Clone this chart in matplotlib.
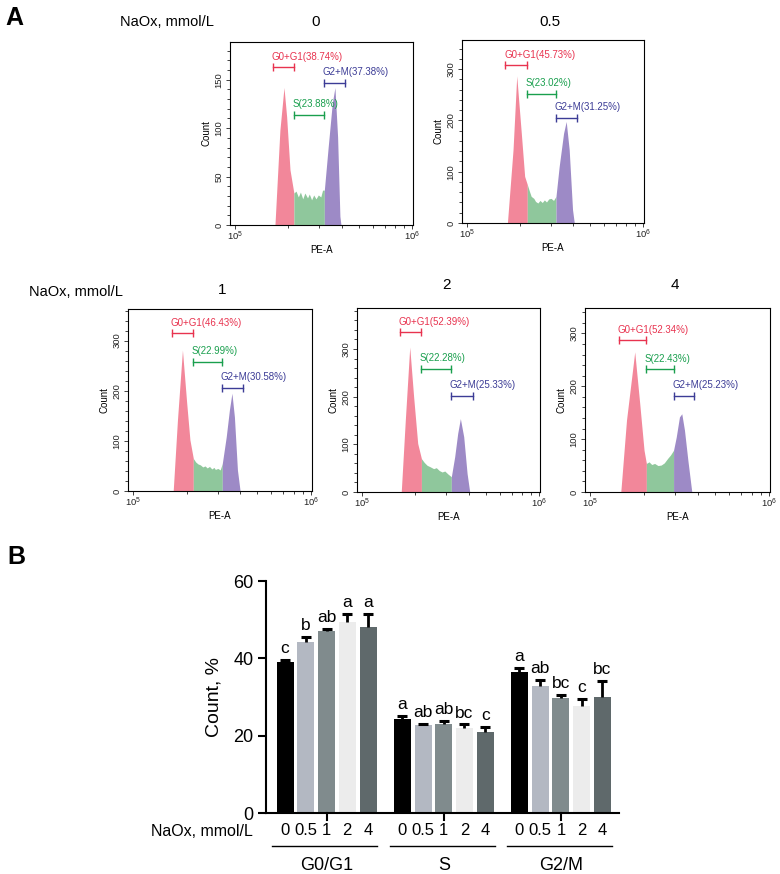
import numpy as np
import matplotlib
matplotlib.use('Agg')
import matplotlib.pyplot as plt
import matplotlib.transforms as mtrans
from matplotlib.ticker import MultipleLocator, FixedLocator, LogLocator, NullFormatter

plt.rcParams['font.family'] = ['Liberation Sans', 'DejaVu Sans']

# ---- panel A: flow cytometry histograms (x = log10 PE-A, y = count) ----
doses = ['0', '0.5', '1', '2', '4']

pe_0 = [5.226, 5.254, 5.277, 5.292, 5.311, 5.333, 5.345, 5.358, 5.37, 5.383, 5.395, 5.41, 5.42,
        5.433, 5.445, 5.458, 5.471, 5.485, 5.495, 5.505, 5.527, 5.55, 5.565, 5.58, 5.593, 5.599]
cnt_0 = [0, 98, 142, 112, 57, 33, 35, 29, 34, 27, 33, 28, 32, 26, 31, 27, 31, 29, 36, 36,
         81, 126, 142, 91, 9, 0]
pe_05 = [5.230, 5.262, 5.283, 5.309, 5.328, 5.343, 5.355, 5.365, 5.38, 5.39, 5.403, 5.415, 5.428,
         5.44, 5.452, 5.465, 5.478, 5.492, 5.506, 5.524, 5.549, 5.564, 5.581, 5.60, 5.61]
cnt_05 = [0, 143, 287, 175, 91, 75, 62, 52, 48, 42, 39, 44, 40, 45, 41, 47, 48, 44, 52,
          110, 175, 198, 143, 26, 0]
pe_1 = [5.226, 5.25, 5.278, 5.302, 5.32, 5.339, 5.352, 5.365, 5.379, 5.392, 5.405, 5.417, 5.43,
        5.443, 5.455, 5.463, 5.477, 5.49, 5.502, 5.524, 5.542, 5.556, 5.57, 5.587, 5.602]
cnt_1 = [0, 142, 281, 175, 102, 65, 58, 54, 52, 48, 50, 46, 49, 44, 47, 43, 45, 42, 55,
         108, 162, 195, 148, 42, 0]
pe_2 = [5.222, 5.245, 5.27, 5.292, 5.315, 5.336, 5.352, 5.368, 5.385, 5.405, 5.42, 5.437, 5.453,
        5.468, 5.485, 5.505, 5.524, 5.541, 5.556, 5.575, 5.594, 5.609]
cnt_2 = [0, 151, 304, 200, 102, 70, 62, 56, 53, 49, 51, 45, 42, 44, 38, 32, 74, 123, 154, 116, 39, 0]
pe_4 = [5.172, 5.204, 5.25, 5.278, 5.302, 5.315, 5.33, 5.345, 5.361, 5.38, 5.398, 5.415, 5.435,
        5.45, 5.467, 5.482, 5.5, 5.513, 5.528, 5.547, 5.569]
cnt_4 = [0, 136, 265, 167, 79, 54, 57, 52, 54, 50, 51, 55, 64, 70, 79, 104, 142, 148, 117, 60, 0]

# gate edges (log10) and gate heights (count): G0+G1, S, G2+M
gate_0 = [5.215, 5.333, 5.505, 5.621]
gate_05 = [5.219, 5.343, 5.506, 5.627]
gate_1 = [5.218, 5.339, 5.502, 5.620]
gate_2 = [5.217, 5.336, 5.505, 5.626]
gate_4 = [5.163, 5.315, 5.467, 5.583]
gate_y0 = [163, 114, 147]
gate_y05 = [308, 252, 205]
gate_y1 = [315, 258, 206]
gate_y2 = [335, 259, 202]
gate_y4 = [287, 232, 182]

g1_pct = [38.74, 45.73, 46.43, 52.39, 52.34]
s_pct = [23.88, 23.02, 22.99, 22.28, 22.43]
g2_pct = [37.38, 31.25, 30.58, 25.33, 25.23]
hist_ymax = [189, 357, 363, 386, 348]

# ---- panel B: bar chart ----
phases = ['G0/G1', 'S', 'G2/M']
g1_mean = [39.0, 44.2, 47.0, 49.5, 48.2]
g1_err = [0.6, 1.3, 0.6, 2.0, 3.2]
s_mean = [24.2, 22.8, 23.1, 21.9, 21.0]
s_err = [1.0, 0.3, 0.6, 1.0, 1.3]
g2_mean = [36.5, 32.9, 29.8, 27.6, 30.0]
g2_err = [0.9, 1.4, 0.8, 1.9, 4.1]
g1_sig = ['c', 'b', 'ab', 'a', 'a']
s_sig = ['a', 'ab', 'ab', 'bc', 'c']
g2_sig = ['a', 'ab', 'bc', 'c', 'bc']

W, H = 780, 874
fig = plt.figure(figsize=(W / 100, H / 100), dpi=100)


def px_axes(l, t, r, b):
    return fig.add_axes([l / W, 1 - b / H, (r - l) / W, (b - t) / H])


def ftext(x, y, s, **kw):
    fig.text(x / W, 1 - y / H, s, **kw)


pink, green, purple = '#f2879a', '#8fc79c', '#9d8ac6'
gate_cols = ['#e8334f', '#1a9f4e', '#3c3c96']

hists = [(pe_0, cnt_0, gate_0, gate_y0), (pe_05, cnt_05, gate_05, gate_y05),
         (pe_1, cnt_1, gate_1, gate_y1), (pe_2, cnt_2, gate_2, gate_y2),
         (pe_4, cnt_4, gate_4, gate_y4)]
boxes = [(230, 42, 413, 225), (462, 40, 644, 223), (128, 309, 312, 491),
         (357, 308, 540, 492), (585, 308, 770, 492)]

for k, (pe, cnt, gate, gy) in enumerate(hists):
    ax = px_axes(*boxes[k])
    lx = np.array(pe)
    x = 10 ** lx
    y = np.array(cnt)
    ax.fill_between(x, y, where=lx <= gate[1], color=pink, lw=0)
    ax.fill_between(x, y, where=(lx >= gate[1]) & (lx <= gate[2]), color=green, lw=0)
    ax.fill_between(x, y, where=lx >= gate[2], color=purple, lw=0)
    labels = ['G0+G1(%.2f%%)' % g1_pct[k], 'S(%.2f%%)' % s_pct[k], 'G2+M(%.2f%%)' % g2_pct[k]]
    for j in range(3):
        ax.plot([10 ** gate[j], 10 ** gate[j + 1]], [gy[j], gy[j]], color=gate_cols[j],
                lw=1, marker='|', markersize=6, markeredgewidth=1)
        ax.annotate(labels[j], (10 ** gate[j], gy[j]), xytext=(-1, 4), textcoords='offset points',
                    ha='left', va='bottom', fontsize=7, color=gate_cols[j])
    ax.set_xscale('log')
    ax.set_xlim(10 ** 4.972, 10 ** 6.006)
    ax.set_ylim(0, hist_ymax[k])
    ax.xaxis.set_major_locator(FixedLocator([1e5, 1e6]))
    ax.xaxis.set_minor_locator(LogLocator(subs=np.arange(2, 10)))
    ax.xaxis.set_minor_formatter(NullFormatter())
    if k == 0:
        ax.yaxis.set_major_locator(MultipleLocator(50))
        ax.yaxis.set_minor_locator(MultipleLocator(10))
    else:
        ax.yaxis.set_major_locator(MultipleLocator(100))
        ax.yaxis.set_minor_locator(MultipleLocator(20))
    ax.tick_params(which='both', direction='out', width=0.6, labelsize=6.8, pad=1.5, colors='#222222')
    ax.tick_params(axis='x', pad=0.5)
    ax.tick_params(which='major', length=3)
    ax.tick_params(which='minor', length=2)
    ax.tick_params(axis='y', labelrotation=90)
    for lbl in ax.get_yticklabels():
        lbl.set_va('center')
    for s in ax.spines.values():
        s.set_linewidth(0.8)
    ax.set_ylabel('Count', fontsize=7, labelpad=2)
    ax.set_xlabel('PE-A', fontsize=7, labelpad=1.5)

# titles panel A
ftext(5, 18, 'A', fontsize=18, fontweight='bold', va='center', ha='left')
ftext(167, 22, 'NaOx, mmol/L', fontsize=10.5, ha='center', va='center')
ftext(316, 22, doses[0], fontsize=11, ha='center', va='center')
ftext(550, 22, doses[1], fontsize=11, ha='center', va='center')
ftext(76, 292, 'NaOx, mmol/L', fontsize=10.5, ha='center', va='center')
ftext(222, 290, doses[2], fontsize=11, ha='center', va='center')
ftext(447, 285, doses[3], fontsize=11, ha='center', va='center')
ftext(675, 285, doses[4], fontsize=11, ha='center', va='center')

# ---- panel B ----
bar_cols = ['#000000', '#b3b8c2', '#808b8d', '#ececec', '#5f696b']
pitch_grp = 5.65
axb = px_axes(266, 581, 619, 813)
means = [g1_mean, s_mean, g2_mean]
errs = [g1_err, s_err, g2_err]
sigs = [g1_sig, s_sig, g2_sig]
bar_x = []
for g in range(3):
    xs = g * pitch_grp + np.arange(5)
    bar_x.extend(xs)
    m = np.array(means[g])
    top = m + np.array(errs[g])
    axb.bar(xs, m, width=0.82, color=bar_cols, lw=0, zorder=2)
    axb.vlines(xs, m, top, color='black', lw=2, zorder=3)
    axb.plot(xs, top, ls='none', marker='_', markersize=7, markeredgewidth=2.2, color='black', zorder=3)
    for i in range(5):
        axb.annotate(sigs[g][i], (xs[i], top[i]), xytext=(0, 5),
                     textcoords='offset points', ha='center', va='baseline', fontsize=12.5)

axb.set_xlim(-0.92, 16.1)
axb.set_ylim(0, 60)
axb.set_yticks([0, 20, 40, 60])
axb.set_xticks(bar_x)
axb.set_xticklabels(doses * 3)
axb.tick_params(axis='x', length=0, pad=7, labelsize=12)
axb.tick_params(axis='y', length=6, width=1.5, labelsize=13, pad=3)
for s in ['top', 'right']:
    axb.spines[s].set_visible(False)
for s in ['left', 'bottom']:
    axb.spines[s].set_linewidth(1.5)
axb.set_ylabel('Count, %', fontsize=14, labelpad=8)

# group tick marks, underlines and phase labels
tick_trans = mtrans.blended_transform_factory(axb.transData, axb.transAxes)
trans = mtrans.blended_transform_factory(axb.transData, fig.transFigure)
for g in range(3):
    xc = g * pitch_grp + 2
    axb.plot([xc, xc], [0, -7 / 232], color='black', lw=1.5, transform=tick_trans, clip_on=False)
    x0 = g * pitch_grp - 0.61
    x1 = g * pitch_grp + 4.45
    axb.plot([x0, x1], [1 - 846 / H, 1 - 846 / H], color='black', lw=1, transform=trans, clip_on=False)
    axb.text(xc, 1 - 866 / H, phases[g], transform=trans, ha='center', va='center', fontsize=13)

ftext(253, 832, 'NaOx, mmol/L', fontsize=11.5, ha='right', va='center')
ftext(7, 557, 'B', fontsize=18, fontweight='bold', va='center', ha='left')

fig.savefig('out.png', dpi=100)
